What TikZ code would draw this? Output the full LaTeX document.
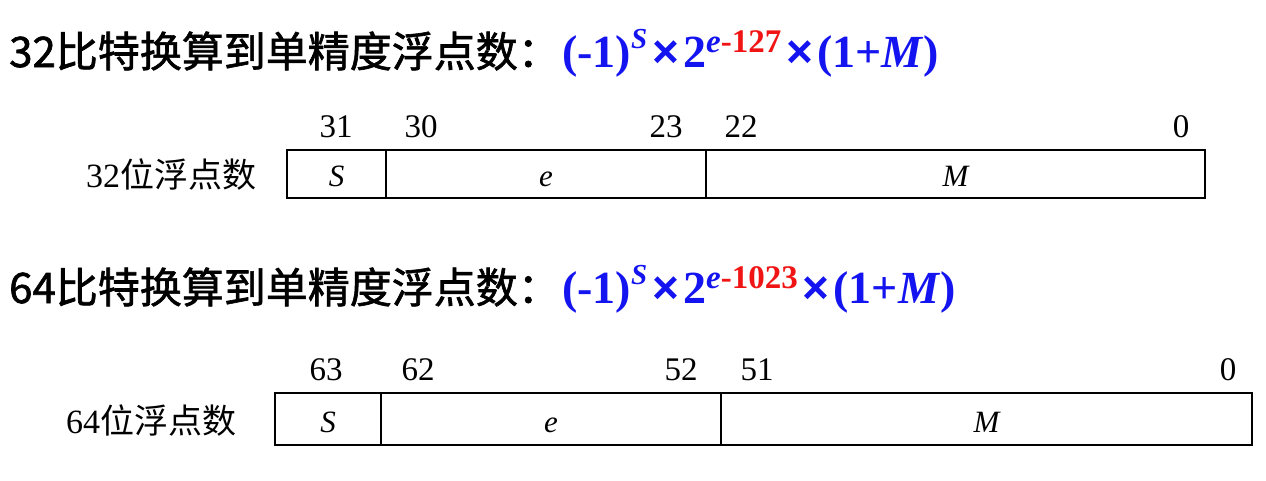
\documentclass[tikz,border=0pt]{standalone}
\usepackage{fontspec}
\setmainfont{Liberation Serif}
\newfontfamily\cjk{Noto Sans CJK SC}
\newfontfamily\cjkb{Noto Sans CJK SC}[FakeBold=1.5]
\newfontfamily\sansb{Liberation Sans}
\definecolor{fblue}{RGB}{20,20,240}
\definecolor{fred}{RGB}{240,20,20}
\newcommand{\supS}[1]{\raisebox{19pt}{\fontsize{29}{30}\selectfont #1}}
\newcommand{\supE}[1]{\raisebox{15pt}{\fontsize{33}{34}\selectfont #1}}
\newcommand{\tms}{\hspace{5pt}{\sansb\bfseries ×}\hspace{4pt}}
\begin{document}
\begin{tikzpicture}[x=1pt,y=-1pt,
  field/.style={draw,line width=1.6pt,rectangle,inner sep=0pt,font=\fontsize{31}{34}\selectfont\itshape},
  bitno/.style={anchor=base,inner sep=0pt,font=\fontsize{33}{36}\selectfont},
  rowlab/.style={anchor=base,inner sep=0pt,font=\fontsize{34}{38}\selectfont},
  title/.style={anchor=base west,inner sep=0pt,font=\fontsize{42}{46}\selectfont\cjkb},
  formula/.style={anchor=base west,inner sep=0pt,text=fblue,font=\fontsize{46}{50}\selectfont\bfseries}]
\useasboundingbox (0,0) rectangle (1266,480);
% titles
\node[title] (t1) at (9,67) {32比特换算到单精度浮点数：};
\node[formula] (f1) at (562,67) {(-1)\supS{\itshape S}\tms 2\supE{\itshape e\textcolor{fred}{\upshape -127}}\tms(1+\textit{M})};
\node[title] (t2) at (9,303) {64比特换算到单精度浮点数：};
\node[formula] (f2) at (562,303) {(-1)\supS{\itshape S}\tms 2\supE{\itshape e\textcolor{fred}{\upshape -1023}}\tms(1+\textit{M})};
% 32-bit
\node[rowlab] (l1) at (171,187) {32{\cjk 位浮点数}};
\node[field,minimum width=99pt,minimum height=48pt,text height=24pt,text depth=0pt] (s1) at (336.5,174) {S};
\node[field,minimum width=320pt,minimum height=48pt,text height=24pt,text depth=0pt] (e1) at (546,174) {e};
\node[field,minimum width=499pt,minimum height=48pt,text height=24pt,text depth=0pt] (m1) at (955.5,174) {M};
\node[bitno] (b31) at (336,137) {31};
\node[bitno] (b30) at (421,137) {30};
\node[bitno] (b23) at (666,137) {23};
\node[bitno] (b22) at (741,137) {22};
\node[bitno] (b0a) at (1181,137) {0};
% 64-bit
\node[rowlab] (l2) at (151,433) {64{\cjk 位浮点数}};
\node[field,minimum width=106pt,minimum height=52pt,text height=26pt,text depth=0pt] (s2) at (328,419) {S};
\node[field,minimum width=340pt,minimum height=52pt,text height=26pt,text depth=0pt] (e2) at (551,419) {e};
\node[field,minimum width=531pt,minimum height=52pt,text height=26pt,text depth=0pt] (m2) at (986.5,419) {M};
\node[bitno] (b63) at (326,380) {63};
\node[bitno] (b62) at (418,380) {62};
\node[bitno] (b52) at (681,380) {52};
\node[bitno] (b51) at (757,380) {51};
\node[bitno] (b0b) at (1228,380) {0};
\end{tikzpicture}
\end{document}
